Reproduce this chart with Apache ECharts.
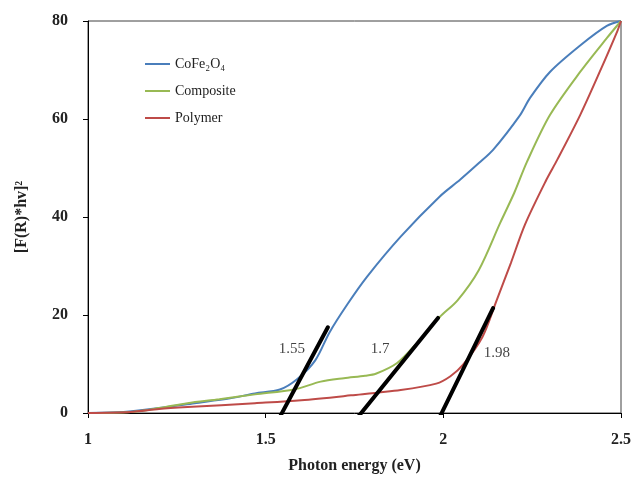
<!DOCTYPE html>
<html>
<head>
<meta charset="utf-8">
<script src="https://cdn.jsdelivr.net/npm/echarts@6/dist/echarts.min.js"></script>
<style>
  html, body { margin: 0; padding: 0; background: #ffffff; }
  #chart { width: 637px; height: 479px; }
</style>
</head>
<body>
<div id="chart"></div>
<script>
// Kubelka-Munk plot: [F(R)*hv]^2 against photon energy
const xTicks = [1, 1.5, 2, 2.5];
const yTicks = [0, 20, 40, 60, 80];

const seriesNames = ['CoFe\u2082O\u2084', 'Composite', 'Polymer'];

const cofeEnergy = [1.0, 1.1, 1.2, 1.3, 1.4, 1.47, 1.54, 1.59, 1.64, 1.68, 1.73, 1.785, 1.88, 1.99, 2.047, 2.1, 2.14, 2.216, 2.244, 2.3, 2.385, 2.46, 2.5];
const cofeValue  = [0, 0.2, 1.0, 2.0, 3.0, 4.0, 4.8, 7.0, 10.8, 16.5, 22.2, 27.8, 36, 44.2, 47.6, 51, 53.7, 60.8, 64.3, 69.6, 75, 79, 80];

const compEnergy = [1.0, 1.12, 1.2, 1.28, 1.37, 1.47, 1.58, 1.655, 1.72, 1.78, 1.81, 1.87, 1.926, 1.99, 2.04, 2.1, 2.16, 2.2, 2.235, 2.3, 2.385, 2.46, 2.5];
const compValue  = [0, 0.2, 1.0, 2.0, 2.8, 3.8, 4.8, 6.4, 7.1, 7.6, 8.0, 10.2, 14.3, 19.6, 23, 29.2, 38.8, 45, 51.2, 60.8, 69.6, 76.5, 80];

const polyEnergy = [1.0, 1.12, 1.2, 1.28, 1.47, 1.6, 1.74, 1.88, 1.98, 2.02, 2.055, 2.11, 2.15, 2.19, 2.23, 2.29, 2.32, 2.385, 2.44, 2.49, 2.5];
const polyValue  = [0, 0.2, 0.8, 1.2, 2.0, 2.6, 3.6, 4.7, 6.0, 7.5, 9.8, 15.5, 23, 30.6, 38.5, 47.6, 51.6, 60.8, 69.6, 78, 80];

// Tangent lines extrapolated to the energy axis: [x0, y0, x1, y1]
const tangentLines = [
  [1.54, -0.8, 1.675, 17.5],
  [1.76, -0.8, 1.985, 19.4],
  [1.99, -0.8, 2.14, 21.4]
];
// Band-gap annotations and where they sit
const gapLabels = ['1.55', '1.7', '1.98'];
const gapLabelX = [1.574, 1.822, 2.151];
const gapLabelY = [13.1, 13.0, 12.2];

const colors = ['#4a7ebb', '#98b954', '#be4b48'];
const serif = '"Liberation Serif", "Times New Roman", serif';

function pairs(xs, ys) { return xs.map((x, i) => [x, ys[i]]); }

const curveData = [
  pairs(cofeEnergy, cofeValue),
  pairs(compEnergy, compValue),
  pairs(polyEnergy, polyValue)
];

const series = curveData.map((d, i) => ({
  name: seriesNames[i],
  type: 'line',
  data: d,
  smooth: 0.3,
  showSymbol: false,
  symbol: 'none',
  lineStyle: { color: colors[i], width: 2 },
  itemStyle: { color: colors[i] },
  z: 2
}));

tangentLines.forEach((t) => {
  series.push({
    type: 'line',
    data: [[t[0], t[1]], [t[2], t[3]]],
    showSymbol: false,
    symbol: 'none',
    lineStyle: { color: '#000', width: 4, cap: 'round' },
    silent: true,
    z: 3
  });
});

series.push({
  type: 'scatter',
  data: gapLabels.map((s, i) => ({ value: [gapLabelX[i], gapLabelY[i]], name: s })),
  symbolSize: 0,
  silent: true,
  label: {
    show: true,
    position: 'inside',
    formatter: (p) => p.name,
    fontFamily: serif,
    fontSize: 15,
    color: '#111'
  },
  z: 4
});

const chart = echarts.init(document.getElementById('chart'), null, { renderer: 'canvas' });
chart.setOption({
  animation: false,
  backgroundColor: '#ffffff',
  grid: {
    left: 88, right: 16, top: 21, bottom: 66,
    show: true, borderColor: '#404040', borderWidth: 1,
    containLabel: false
  },
  legend: {
    data: seriesNames,
    orient: 'vertical',
    left: 140,
    top: 51,
    itemWidth: 25,
    itemHeight: 2,
    itemGap: 11,
    icon: 'rect',
    textStyle: { fontFamily: serif, fontSize: 14, color: '#222', lineHeight: 16 }
  },
  xAxis: {
    type: 'value',
    min: xTicks[0],
    max: xTicks[xTicks.length - 1],
    interval: 0.5,
    name: 'Photon energy (eV)',
    nameLocation: 'middle',
    nameGap: 45,
    nameTextStyle: { fontFamily: serif, fontSize: 16, fontWeight: 'bold', color: '#222' },
    axisLine: { show: true, lineStyle: { color: '#000', width: 1 } },
    axisTick: { show: true, inside: false, length: 5, lineStyle: { color: '#000' } },
    axisLabel: {
      margin: 19,
      fontFamily: serif, fontSize: 16, fontWeight: 'bold', color: '#222',
      formatter: (v) => String(v)
    },
    splitLine: { show: false }
  },
  yAxis: {
    type: 'value',
    min: yTicks[0],
    max: yTicks[yTicks.length - 1],
    interval: 20,
    name: '[F(R)*hv]\u00B2',
    nameLocation: 'middle',
    nameGap: 58,
    nameRotate: 90,
    nameTextStyle: { fontFamily: serif, fontSize: 16, fontWeight: 'bold', color: '#222' },
    axisLine: { show: true, lineStyle: { color: '#000', width: 1 } },
    axisTick: { show: true, inside: false, length: 5, lineStyle: { color: '#000' } },
    axisLabel: {
      margin: 20,
      fontFamily: serif, fontSize: 16, fontWeight: 'bold', color: '#222'
    },
    splitLine: { show: false }
  },
  series: series
});
</script>
</body>
</html>
